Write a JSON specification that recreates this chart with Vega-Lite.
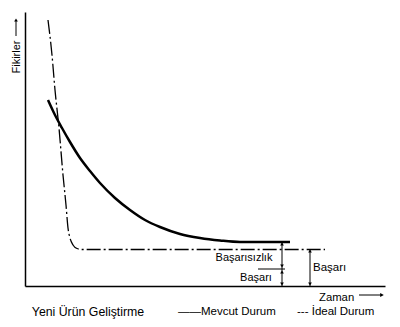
{
  "$schema": "https://vega.github.io/schema/vega-lite/v6.json",
  "width": 360,
  "height": 274,
  "autosize": {"type": "none"},
  "padding": {"left": 25, "top": 12, "right": 15, "bottom": 41},
  "background": "white",
  "config": {
    "view": {"stroke": null},
    "font": "Liberation Sans",
    "axis": {"domainColor": "black", "domainWidth": 1.5, "ticks": false, "labels": false, "grid": false, "title": null}
  },
  "datasets": {
    "mevcut": [
      {"x": 23, "y": 186}, {"x": 30, "y": 171}, {"x": 37, "y": 158}, {"x": 45, "y": 144},
      {"x": 55, "y": 128}, {"x": 65, "y": 115}, {"x": 75, "y": 103}, {"x": 90, "y": 88},
      {"x": 105, "y": 76}, {"x": 120, "y": 66}, {"x": 135, "y": 59}, {"x": 155, "y": 52},
      {"x": 175, "y": 48}, {"x": 195, "y": 45.5}, {"x": 215, "y": 44}, {"x": 265, "y": 44}
    ],
    "ideal": [
      {"x": 23, "y": 266}, {"x": 27, "y": 231}, {"x": 30, "y": 196}, {"x": 34, "y": 158},
      {"x": 38, "y": 111}, {"x": 41, "y": 81}, {"x": 43, "y": 58}, {"x": 45, "y": 48},
      {"x": 48, "y": 41}, {"x": 52, "y": 37.5}, {"x": 57, "y": 36.5}, {"x": 300, "y": 36.5}
    ],
    "vrules": [
      {"x": 257, "y1": 0, "y2": 44},
      {"x": 285, "y1": 0, "y2": 37},
      {"x": -9, "y1": 250, "y2": 266}
    ],
    "hrules": [
      {"x1": 233, "x2": 260, "y": 17},
      {"x1": 334, "x2": 356, "y": -9}
    ],
    "arrowsUp": [
      {"x": 257, "y": 42}, {"x": 257, "y": 14}, {"x": 285, "y": 35}, {"x": -9, "y": 266}
    ],
    "arrowsDown": [
      {"x": 257, "y": 20}, {"x": 257, "y": 2}, {"x": 285, "y": 2}
    ],
    "arrowsRight": [
      {"x": 357, "y": -9}
    ],
    "labelsCenter": [
      {"x": 219, "y": 28, "t": "Başarısızlık", "s": 11},
      {"x": 231, "y": 8, "t": "Başarı", "s": 11},
      {"x": 63, "y": -26, "t": "Yeni Ürün Geliştirme", "s": 12.3}
    ],
    "labelsLeft": [
      {"x": 288, "y": 18, "t": "Başarı", "s": 11.5},
      {"x": 294, "y": -12, "t": "Zaman", "s": 11.3},
      {"x": 153, "y": -26, "t": "——Mevcut Durum", "s": 11.5},
      {"x": 272, "y": -26, "t": "--- İdeal Durum", "s": 11.5}
    ],
    "labelsRot": [
      {"x": -8, "y": 229, "t": "Fikirler", "s": 11}
    ]
  },
  "layer": [
    {
      "data": {"name": "mevcut"},
      "mark": {"type": "line", "color": "black", "strokeWidth": 2.5, "interpolate": "monotone"},
      "encoding": {
        "x": {"field": "x", "type": "quantitative", "scale": {"domain": [0, 360], "nice": false, "zero": false}, "axis": {"orient": "bottom"}},
        "y": {"field": "y", "type": "quantitative", "scale": {"domain": [0, 274], "nice": false, "zero": false}, "axis": {"orient": "left"}}
      }
    },
    {
      "data": {"name": "ideal"},
      "mark": {"type": "line", "color": "black", "strokeWidth": 1.3, "strokeDash": [14, 3, 2, 3], "interpolate": "monotone"},
      "encoding": {
        "x": {"field": "x", "type": "quantitative"},
        "y": {"field": "y", "type": "quantitative"}
      }
    },
    {
      "data": {"name": "vrules"},
      "mark": {"type": "rule", "color": "black", "strokeWidth": 1},
      "encoding": {
        "x": {"field": "x", "type": "quantitative"},
        "y": {"field": "y1", "type": "quantitative"},
        "y2": {"field": "y2"}
      }
    },
    {
      "data": {"name": "hrules"},
      "mark": {"type": "rule", "color": "black", "strokeWidth": 1},
      "encoding": {
        "x": {"field": "x1", "type": "quantitative"},
        "x2": {"field": "x2"},
        "y": {"field": "y", "type": "quantitative"}
      }
    },
    {
      "data": {"name": "arrowsUp"},
      "mark": {"type": "point", "shape": "triangle-up", "filled": true, "color": "black", "size": 14, "opacity": 1},
      "encoding": {
        "x": {"field": "x", "type": "quantitative"},
        "y": {"field": "y", "type": "quantitative"}
      }
    },
    {
      "data": {"name": "arrowsDown"},
      "mark": {"type": "point", "shape": "triangle-down", "filled": true, "color": "black", "size": 14, "opacity": 1},
      "encoding": {
        "x": {"field": "x", "type": "quantitative"},
        "y": {"field": "y", "type": "quantitative"}
      }
    },
    {
      "data": {"name": "arrowsRight"},
      "mark": {"type": "point", "shape": "triangle-right", "filled": true, "color": "black", "size": 18, "opacity": 1},
      "encoding": {
        "x": {"field": "x", "type": "quantitative"},
        "y": {"field": "y", "type": "quantitative"}
      }
    },
    {
      "data": {"name": "labelsCenter"},
      "mark": {"type": "text", "align": "center", "baseline": "middle", "color": "black"},
      "encoding": {
        "x": {"field": "x", "type": "quantitative"},
        "y": {"field": "y", "type": "quantitative"},
        "text": {"field": "t"},
        "size": {"field": "s", "type": "quantitative", "scale": null}
      }
    },
    {
      "data": {"name": "labelsLeft"},
      "mark": {"type": "text", "align": "left", "baseline": "middle", "color": "black"},
      "encoding": {
        "x": {"field": "x", "type": "quantitative"},
        "y": {"field": "y", "type": "quantitative"},
        "text": {"field": "t"},
        "size": {"field": "s", "type": "quantitative", "scale": null}
      }
    },
    {
      "data": {"name": "labelsRot"},
      "mark": {"type": "text", "align": "center", "baseline": "middle", "angle": 270, "color": "black"},
      "encoding": {
        "x": {"field": "x", "type": "quantitative"},
        "y": {"field": "y", "type": "quantitative"},
        "text": {"field": "t"},
        "size": {"field": "s", "type": "quantitative", "scale": null}
      }
    }
  ]
}
